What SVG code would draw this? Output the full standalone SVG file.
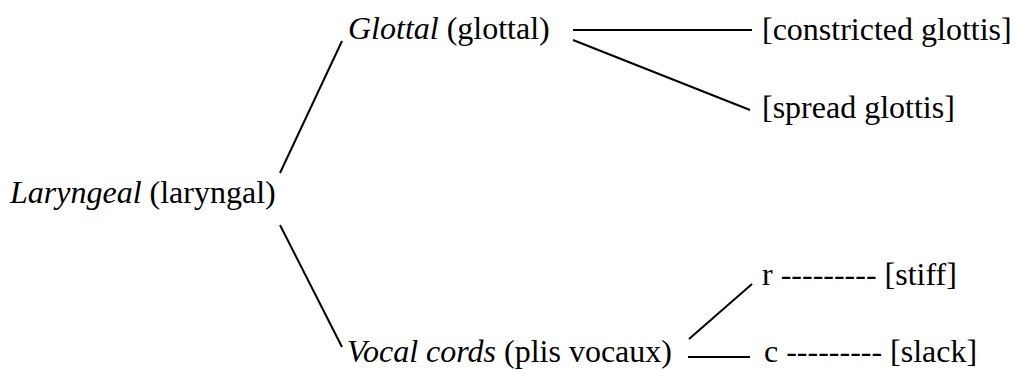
<svg xmlns="http://www.w3.org/2000/svg" width="1016" height="370" viewBox="0 0 1016 370">
<style>
text{font-family:"Liberation Serif","Times New Roman",serif;font-size:32px;fill:#000}
.i{font-style:italic}
line{stroke:#000;stroke-width:2;stroke-linecap:butt}
</style>
<rect width="1016" height="370" fill="#fff"/>
<g id="laryngeal"><text x="10" y="203"><tspan class="i">Laryngeal</tspan> (laryngal)</text></g>
<g id="glottal"><text x="348" y="39"><tspan class="i">Glottal</tspan> (glottal)</text></g>
<g id="constricted"><text x="762" y="40">[constricted glottis]</text></g>
<g id="spread"><text x="762" y="118">[spread glottis]</text></g>
<g id="vocal"><text x="347" y="362"><tspan class="i">Vocal cords</tspan> (plis vocaux)</text></g>
<g id="stiff"><text x="762" y="285">r --------- [stiff]</text></g>
<g id="slack"><text x="764" y="362">c --------- [slack]</text></g>
<g id="connectors">
<line x1="280" y1="173" x2="342" y2="41"/>
<line x1="280" y1="225" x2="342" y2="347"/>
<line x1="573" y1="30" x2="752" y2="30"/>
<line x1="573" y1="40" x2="750" y2="110"/>
<line x1="689" y1="339" x2="752" y2="284"/>
<line x1="688" y1="357" x2="750" y2="357"/>
</g>
</svg>
